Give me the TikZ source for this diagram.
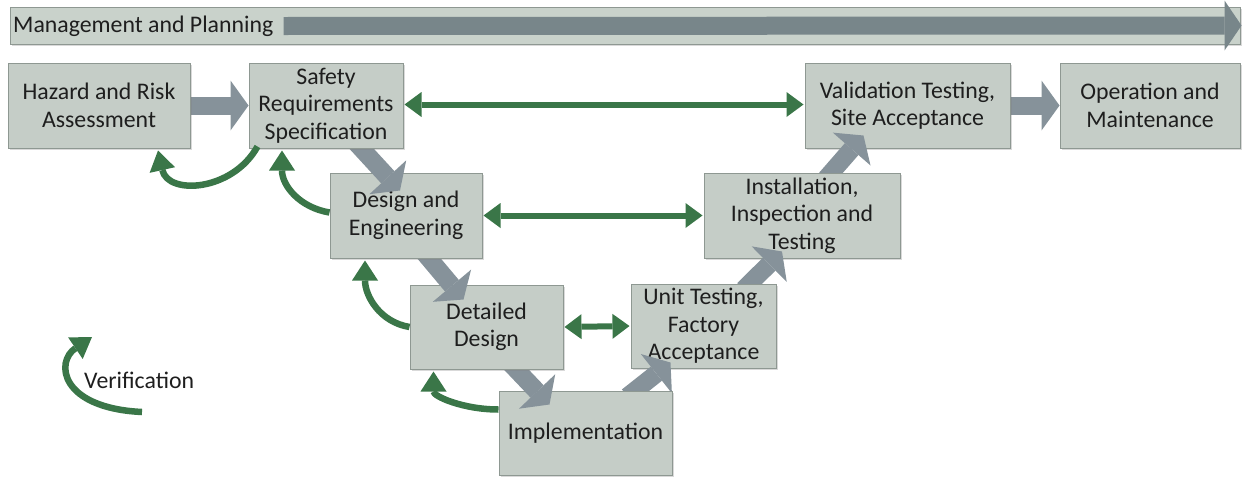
\documentclass[tikz,border=0pt]{standalone}
\usepackage{fontspec}
\setmainfont{Carlito}
\usetikzlibrary{arrows.meta,calc,shadows}
\definecolor{boxfill}{HTML}{C5CDC7}
\definecolor{boxline}{HTML}{8E9892}
\definecolor{barfill}{HTML}{C9D2CB}
\definecolor{vgreen}{HTML}{3A7648}
\definecolor{garrow}{HTML}{86929A}
\definecolor{mparrow}{HTML}{78868A}
\definecolor{txt}{HTML}{1E1E1E}
\pgfdeclarelayer{L1}\pgfdeclarelayer{L2}\pgfdeclarelayer{L3}\pgfdeclarelayer{L4}
\pgfdeclarelayer{L5}\pgfdeclarelayer{L6}\pgfdeclarelayer{L7}\pgfdeclarelayer{L8}
\pgfdeclarelayer{L9}\pgfdeclarelayer{L10}\pgfdeclarelayer{L11}\pgfdeclarelayer{L12}
\pgfdeclarelayer{L13}\pgfdeclarelayer{L14}\pgfdeclarelayer{L15}\pgfdeclarelayer{L16}
\pgfdeclarelayer{L17}
\pgfsetlayers{L1,L2,L3,L4,L5,L6,L7,L8,L9,L10,L11,L12,L13,L14,L15,L16,L17,main}
\begin{document}
\begin{tikzpicture}[x=1pt,y=-1pt,
  lbl/.style={text=txt, font=\fontsize{23.8}{27.5}\selectfont},
  box/.style={lbl, draw=boxline, line width=1pt, fill=boxfill, align=center, inner sep=0pt,
    drop shadow={shadow xshift=1.5pt, shadow yshift=-1.5pt, opacity=0.3}},
  bar/.style={draw=boxline, line width=1pt, fill=barfill, inner sep=0pt,
    drop shadow={shadow xshift=1.5pt, shadow yshift=-1.5pt, opacity=0.3}},
  blockarr/.style={draw=garrow, line width=18pt, -{Triangle[width=50pt,length=18pt,line width=0pt 0 0]}},
  mparr/.style={draw=mparrow, line width=18pt, -{Triangle[width=50pt,length=17pt,line width=0pt 0 0]}},
  verif/.style={draw=vgreen, line width=6.5pt, -{Triangle[width=26pt,length=20pt,line width=0pt 0 0]}},
  dbl/.style={draw=vgreen, line width=6pt, {Triangle[width=25pt,length=17pt,line width=0pt 0 0]}-{Triangle[width=25pt,length=17pt,line width=0pt 0 0]}}]
\useasboundingbox (0,0) rectangle (1247,477);

% management bar
\node[bar, minimum width=1230pt, minimum height=37pt] (mp) at (625,25.5) {};
\node[lbl, anchor=west, inner sep=0pt] (mptext) at (13,26) {Management and Planning};
\draw[mparr] ($(mptext.east)+(10,0)$) -- ($(mp.east)+(1,0)$);

% boxes
\begin{pgfonlayer}{L17}\node[box, minimum width=182pt, minimum height=85pt] (haz) at (99,105.5) {Hazard and Risk\\Assessment};\end{pgfonlayer}
\begin{pgfonlayer}{L15}\node[box, minimum width=154pt, minimum height=85pt] (srs) at (326,105.5) {Safety\\Requirements\\Specification};\end{pgfonlayer}
\begin{pgfonlayer}{L13}\node[box, minimum width=152pt, minimum height=85pt] (de) at (406,215.5) {Design and\\Engineering};\end{pgfonlayer}
\begin{pgfonlayer}{L11}\node[box, minimum width=153pt, minimum height=84pt] (dd) at (486.5,327) {Detailed\\Design};\end{pgfonlayer}
\begin{pgfonlayer}{L9}\node[box, minimum width=173pt, minimum height=84pt] (impl) at (585.5,433) {Implementation};\end{pgfonlayer}
\begin{pgfonlayer}{L7}\node[box, minimum width=145pt, minimum height=84pt] (ut) at (703.5,326) {Unit Testing,\\Factory\\Acceptance};\end{pgfonlayer}
\begin{pgfonlayer}{L5}\node[box, minimum width=196pt, minimum height=85pt] (inst) at (802,215.5) {Installation,\\Inspection and\\Testing};\end{pgfonlayer}
\begin{pgfonlayer}{L3}\node[box, minimum width=205pt, minimum height=85pt] (val) at (907.5,105.5) {Validation Testing,\\Site Acceptance};\end{pgfonlayer}
\begin{pgfonlayer}{L1}\node[box, minimum width=180pt, minimum height=85pt] (op) at (1150,105.5) {Operation and\\Maintenance};\end{pgfonlayer}

% grey flow arrows
\begin{pgfonlayer}{L16}\draw[blockarr] ($(haz.east)+(-5,0)$) -- (srs.west);\end{pgfonlayer}
\begin{pgfonlayer}{L14}\draw[blockarr] ($(srs.south)+(28,-8)$) -- ($(de.north)+(-6,18)$);\end{pgfonlayer}
\begin{pgfonlayer}{L12}\draw[blockarr] ($(de.south)+(18,-6)$) -- ($(dd.north)+(-23,15)$);\end{pgfonlayer}
\begin{pgfonlayer}{L10}\draw[blockarr] ($(dd.south)+(24,-6)$) -- ($(impl.north)+(-36,14)$);\end{pgfonlayer}
\begin{pgfonlayer}{L8}\draw[blockarr] ($(impl.north)+(42,6)$) -- ($(ut.south)+(-33,-6)$);\end{pgfonlayer}
\begin{pgfonlayer}{L6}\draw[blockarr] ($(ut.north)+(40,6)$) -- ($(inst.south)+(-20,-7)$);\end{pgfonlayer}
\begin{pgfonlayer}{L4}\draw[blockarr] ($(inst.north)+(24,6)$) -- ($(val.south)+(-44,-13)$);\end{pgfonlayer}
\begin{pgfonlayer}{L2}\draw[blockarr] ($(val.east)+(-5,0)$) -- (op.west);\end{pgfonlayer}

% green double arrows
\draw[dbl] ($(srs.east)+(1,-1)$) -- ($(val.west)+(-1,-1)$);
\draw[dbl] ($(de.east)+(1,0)$) -- ($(inst.west)+(-1,0)$);
\draw[dbl] ($(dd.east)+(1,0)$) -- ($(ut.west)+(-1,0)$);

% verification arrows
\draw[verif] ($(srs.south west)+(9,-2)$) .. controls +(-25,45) and +(10,45) .. ($(haz.south)+(59,2)$);
\draw[verif] ($(de.west)+(0,-3)$) .. controls +(-30,-5) and +(0,35) .. ($(srs.south)+(-44,2)$);
\draw[verif] (dd.west) .. controls +(-30,-5) and +(0,35) .. ($(de.south)+(-41,2)$);
\draw[verif] ($(impl.north west)+(0,19)$) .. controls +(-35,0) and +(0,25) .. ($(dd.south)+(-53,2)$);

% legend
\coordinate (legS) at (142,412);
\coordinate (legE) at (92,337);
\draw[verif] (legS) .. controls (60,408) and (55,362) .. (legE);
\node[lbl, anchor=west, inner sep=0pt] (vlab) at (84,380) {Verification};
\end{tikzpicture}
\end{document}
